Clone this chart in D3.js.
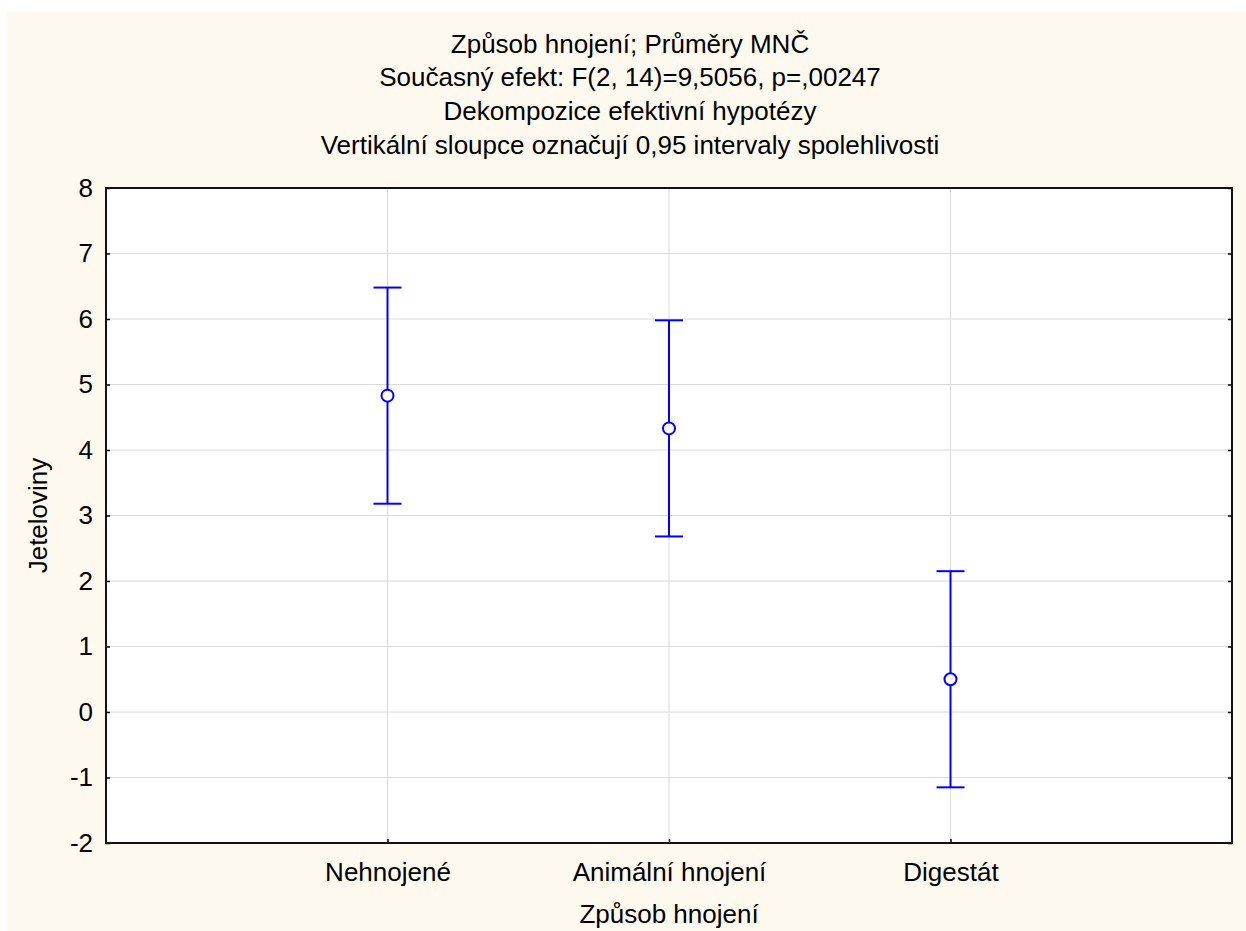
<!DOCTYPE html>
<html><head><meta charset="utf-8">
<script src="https://cdn.jsdelivr.net/npm/d3@7"></script>
<style>body{margin:0;background:#fff}svg{display:block}text{font-family:"Liberation Sans",Arial,sans-serif;fill:#000}</style>
</head><body>
<script>
const categories = ["Nehnojené", "Animální hnojení", "Digestát"];
const means = [4.83, 4.33, 0.50];
const upper = [6.48, 5.98, 2.15];
const lower = [3.18, 2.68, -1.15];
const yTicks = [-2, -1, 0, 1, 2, 3, 4, 5, 6, 7, 8];
const titleLines = ["Způsob hnojení; Průměry MNČ", "Současný efekt: F(2, 14)=9,5056, p=,00247", "Dekompozice efektivní hypotézy", "Vertikální sloupce označují 0,95 intervaly spolehlivosti"];
const xTitle = "Způsob hnojení";
const yTitle = "Jeteloviny";

const W = 1246, H = 931, FS = 26;
const m = {left: 106, right: 1232, top: 188, bottom: 843};
const svg = d3.select("body").append("svg").attr("width", W).attr("height", H);
svg.append("rect").attr("x", 7).attr("y", 12).attr("width", W - 7).attr("height", H - 12).attr("fill", "#fef9ee");
svg.append("rect").attr("x", m.left).attr("y", m.top).attr("width", m.right - m.left).attr("height", m.bottom - m.top).attr("fill", "#fff");

const x = d3.scalePoint().domain(categories).range([m.left, m.right]).padding(1);
const y = d3.scaleLinear().domain([-2, 8]).range([m.bottom, m.top]);

// grid
svg.append("g").selectAll("line").data(yTicks.slice(1, -1)).join("line")
  .attr("x1", m.left).attr("x2", m.right).attr("y1", d => y(d)).attr("y2", d => y(d))
  .attr("stroke", "#dadada").attr("stroke-width", 1);
svg.append("g").selectAll("line").data(categories).join("line")
  .attr("x1", d => x(d)).attr("x2", d => x(d)).attr("y1", m.top).attr("y2", m.bottom)
  .attr("stroke", "#dadada").attr("stroke-width", 1);

// axes
const yAxisL = d3.axisLeft(y).tickValues(yTicks).tickSize(-4).tickPadding(13).tickFormat(d => String(d));
const gy = svg.append("g").attr("transform", `translate(${m.left},0)`).call(yAxisL);
gy.select(".domain").remove();
gy.selectAll("text").attr("font-size", FS).attr("font-family", "Liberation Sans, Arial, sans-serif").attr("fill", "#000");
gy.selectAll("line").attr("stroke", "#000").attr("stroke-width", 1.5);
const yAxisR = d3.axisRight(y).tickValues(yTicks).tickSize(-4).tickFormat("");
const gyr = svg.append("g").attr("transform", `translate(${m.right},0)`).call(yAxisR);
gyr.select(".domain").remove();
gyr.selectAll("line").attr("stroke", "#000").attr("stroke-width", 1.5);
const xAxis = d3.axisBottom(x).tickSize(-4).tickPadding(0);
const gx = svg.append("g").attr("transform", `translate(0,${m.bottom})`).call(xAxis);
gx.select(".domain").remove();
gx.selectAll("text").attr("font-size", FS).attr("font-family", "Liberation Sans, Arial, sans-serif").attr("fill", "#000").attr("dy", null).attr("y", 38);
gx.selectAll("line").attr("stroke", "#000").attr("stroke-width", 1.5);

// frame
svg.append("rect").attr("x", m.left).attr("y", m.top).attr("width", m.right - m.left).attr("height", m.bottom - m.top)
  .attr("fill", "none").attr("stroke", "#111").attr("stroke-width", 2);

// error bars
const data = categories.map((c, i) => ({c, m: means[i], u: upper[i], l: lower[i]}));
const g = svg.append("g").attr("stroke", "#0000ff").attr("stroke-width", 2).attr("fill", "none");
g.selectAll(".v").data(data).join("line").attr("x1", d => x(d.c)).attr("x2", d => x(d.c)).attr("y1", d => y(d.u)).attr("y2", d => y(d.l));
g.selectAll(".t").data(data).join("line").attr("x1", d => x(d.c) - 14).attr("x2", d => x(d.c) + 14).attr("y1", d => y(d.u)).attr("y2", d => y(d.u));
g.selectAll(".b").data(data).join("line").attr("x1", d => x(d.c) - 14).attr("x2", d => x(d.c) + 14).attr("y1", d => y(d.l)).attr("y2", d => y(d.l));
g.selectAll("circle").data(data).join("circle").attr("cx", d => x(d.c)).attr("cy", d => y(d.m)).attr("r", 6).attr("fill", "#fff");

// titles
svg.append("g").selectAll("text").data(titleLines).join("text")
  .attr("x", 630).attr("y", (d, i) => 52.5 + i * 33.7).attr("text-anchor", "middle").attr("font-size", FS).text(d => d);
svg.append("text").attr("x", x(categories[1])).attr("y", 923).attr("text-anchor", "middle").attr("font-size", FS).text(xTitle);
svg.append("text").attr("transform", `translate(47,${(m.top + m.bottom) / 2}) rotate(-90)`).attr("text-anchor", "middle").attr("font-size", FS).text(yTitle);
</script>
</body></html>
